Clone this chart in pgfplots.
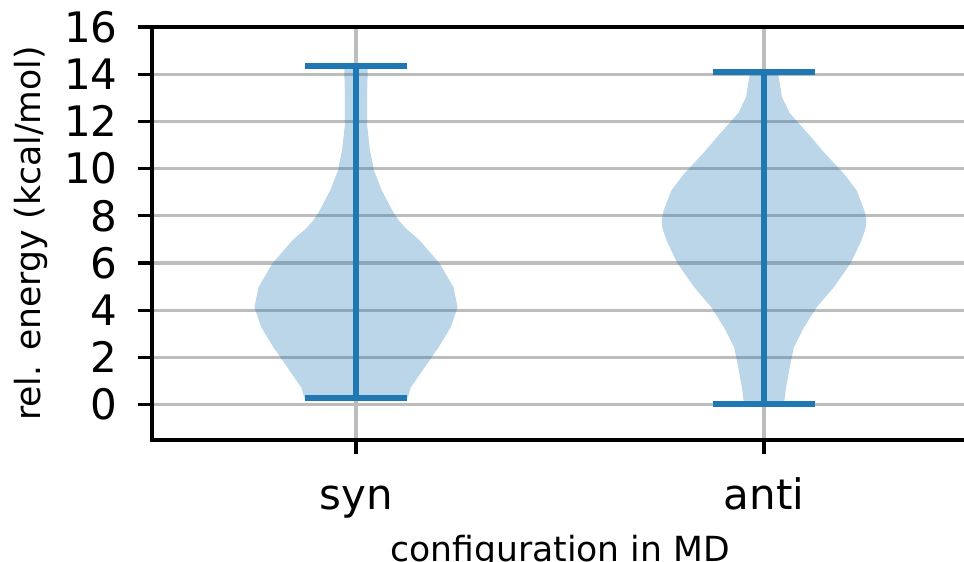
\documentclass[border=0pt]{standalone}
\usepackage{pgfplots}
\pgfplotsset{compat=1.18}
\usepackage{fontspec}
\setmainfont{DejaVu Sans}
\definecolor{mplblue}{HTML}{1F77B4}
\definecolor{gridgray}{HTML}{BDBDBD}
\begin{document}
\begin{tikzpicture}
\begin{axis}[
  scale only axis, width=408pt, height=206.5pt,
  xmin=0.5, xmax=2.5, ymin=-1.5, ymax=16,
  xtick={1,2}, xticklabels={syn,anti},
  ytick={0,2,...,16},
  xtick pos=left, ytick pos=left,
  tick align=outside, major tick length=7.2pt,
  every tick/.style={black, line width=1.64pt},
  axis line style={black, line width=1.64pt},
  grid=major, major grid style={gridgray, line width=1.64pt},
  tick label style={font=\fontsize{21}{25}\selectfont, inner sep=0pt},
  /pgf/number format/assume math mode=true,
  xticklabel style={anchor=base, yshift=-27.3pt},
  yticklabel style={anchor=east, xshift=-9.8pt},
  label style={font=\fontsize{17.3}{20}\selectfont, inner sep=0pt},
  xlabel={configuration in MD}, ylabel={rel. energy (kcal/mol)},
  xlabel style={at={([yshift=-60.5pt]axis description cs:0.5,0)}, anchor=base},
  ylabel style={at={([xshift=-55.5pt]axis description cs:0,0.5)}, anchor=base, rotate=0},
]
% syn violin
\addplot[fill=mplblue, fill opacity=0.3, draw=none] coordinates {
(1.127,0.3) (1.134,0.72) (1.168,1.57) (1.202,2.42) (1.232,3.27) (1.249,4.12) (1.239,4.97) (1.205,5.98) (1.156,6.96) (1.122,7.47) (1.105,7.8) (1.093,8.1) (1.063,9.08) (1.044,9.93) (1.034,10.8) (1.027,11.9) (1.027,13.0) (1.029,14.35)
(0.971,14.35) (0.973,13.0) (0.973,11.9) (0.966,10.8) (0.956,9.93) (0.937,9.08) (0.907,8.1) (0.895,7.8) (0.878,7.47) (0.844,6.96) (0.795,5.98) (0.761,4.97) (0.751,4.12) (0.768,3.27) (0.798,2.42) (0.832,1.57) (0.866,0.72) (0.873,0.3)
} -- cycle;
% anti violin
\addplot[fill=mplblue, fill opacity=0.3, draw=none] coordinates {
(2.049,0.03) (2.054,0.72) (2.063,1.57) (2.073,2.42) (2.098,3.27) (2.129,4.12) (2.171,4.97) (2.212,5.98) (2.239,6.96) (2.249,7.47) (2.251,7.8) (2.246,8.23) (2.227,9.08) (2.195,9.8) (2.149,10.65) (2.107,11.5) (2.063,12.35) (2.044,13.03) (2.034,14.09)
(1.966,14.09) (1.956,13.03) (1.937,12.35) (1.893,11.5) (1.851,10.65) (1.805,9.8) (1.773,9.08) (1.754,8.23) (1.749,7.8) (1.751,7.47) (1.761,6.96) (1.788,5.98) (1.829,4.97) (1.871,4.12) (1.902,3.27) (1.927,2.42) (1.937,1.57) (1.946,0.72) (1.951,0.03)
} -- cycle;
% syn bars
\addplot[mplblue, line width=3pt] coordinates {(1,0.3) (1,14.35)};
\addplot[mplblue, line width=3pt] coordinates {(0.875,14.35) (1.125,14.35)};
\addplot[mplblue, line width=3pt] coordinates {(0.875,0.3) (1.125,0.3)};
% anti bars
\addplot[mplblue, line width=3pt] coordinates {(2,0.03) (2,14.09)};
\addplot[mplblue, line width=3pt] coordinates {(1.875,14.09) (2.125,14.09)};
\addplot[mplblue, line width=3pt] coordinates {(1.875,0.03) (2.125,0.03)};
\end{axis}
\pgfresetboundingbox
\path[use as bounding box] ([xshift=-76pt, yshift=-61pt]current axis.south west) rectangle ([xshift=-2pt, yshift=13.5pt]current axis.north east);
\end{tikzpicture}
\end{document}
